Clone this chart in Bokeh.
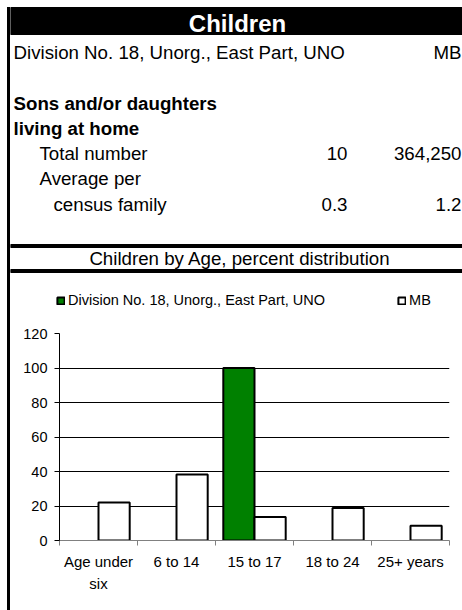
from bokeh.plotting import figure
from bokeh.models import (Range1d, FactorRange, ColumnDataSource, LinearAxis,
                          FixedTicker, Label, Legend, LegendItem, CDSView,
                          BooleanFilter, Div, Grid, Spacer)
from bokeh.layouts import row, column
from bokeh.transform import dodge
from bokeh.embed import file_html
from bokeh.resources import INLINE

FONT = "Liberation Sans"

# ---- data ----
title_text = "Children"
region_name = "Division No. 18, Unorg., East Part, UNO"
province_name = "MB"
section_lines = ["Sons and/or daughters", "living at home"]
row_labels = ["Total number", "Average per", "census family"]
total_number = [10, 364250]
avg_per_family = [0.3, 1.2]
chart_title = "Children by Age, percent distribution"

age_groups = ["Age under six", "6 to 14", "15 to 17", "18 to 24", "25+ years"]
age_labels = ["Age under\nsix", "6 to 14", "15 to 17", "18 to 24", "25+ years"]
division_pct = [0, 0, 100, 0, 0]
mb_pct = [22.0, 38.3, 13.6, 18.8, 8.6]
y_ticks = [0, 20, 40, 60, 80, 100, 120]

DIV_STYLE = dict(fill_color="#008000", line_color="black", line_width=2)
MB_STYLE = dict(fill_color="white", line_color="black", line_width=2)

# ---- top table panel (page coordinates) ----
TOP_H = 320
top = figure(width=452, height=TOP_H, x_range=Range1d(10, 462), y_range=Range1d(TOP_H, 0),
             x_axis_location=None, y_axis_location=None, toolbar_location=None,
             output_backend="svg", min_border=0, outline_line_color=None)
top.grid.visible = False
top.quad(left=[10], right=[462], top=[7], bottom=[34], color="black")
top.quad(left=[10, 10], right=[462, 462], top=[244, 269], bottom=[247, 272], color="black")


def lab(x, y, text, size="18.7px", align="left", bold=False, color="black"):
    top.add_layout(Label(x=x, y=y, text=text, text_font=FONT, text_font_size=size,
                         text_align=align, text_baseline="middle",
                         text_font_style="bold" if bold else "normal", text_color=color))


lab(237, 22.5, title_text, size="24px", align="center", bold=True, color="white")
lab(13, 52, region_name)
lab(461, 52, province_name, align="right")
lab(13, 103, section_lines[0], bold=True)
lab(13, 128, section_lines[1], bold=True)
lab(39, 153, row_labels[0])
lab(347, 153, f"{total_number[0]:,}", align="right")
lab(461, 153, f"{total_number[1]:,}", align="right")
lab(39, 178, row_labels[1])
lab(53, 204, row_labels[2])
lab(347, 204, f"{avg_per_family[0]:.1f}", align="right")
lab(461, 204, f"{avg_per_family[1]:.1f}", align="right")
lab(239.5, 258, chart_title, align="center")

# legend (lives in the upper panel, above the chart frame); proxy glyphs are not drawn
p1 = top.vbar(x=[float("nan")], top=[float("nan")], width=1, **DIV_STYLE)
p2 = top.vbar(x=[float("nan")], top=[float("nan")], width=1, **MB_STYLE)
legend = Legend(items=[LegendItem(label=region_name, renderers=[p1]),
                       LegendItem(label=province_name, renderers=[p2])],
                orientation="horizontal", location=(46, TOP_H - 310), glyph_width=9,
                glyph_height=9, label_standoff=3, spacing=72, padding=0, margin=0,
                border_line_color=None, background_fill_alpha=0, label_text_font=FONT,
                label_text_font_size="14.5px", label_text_color="black", label_height=20)
top.add_layout(legend, "center")

# ---- bar chart ----
chart = figure(width=452, height=610 - TOP_H, x_range=FactorRange(*age_groups),
               y_range=Range1d(0, 120), x_axis_location=None, y_axis_location=None,
               toolbar_location=None, output_backend="svg", min_border_left=49,
               min_border_right=13, min_border_top=333 - TOP_H, min_border_bottom=70,
               outline_line_color=None)
chart.center = [r for r in chart.center if not isinstance(r, Grid)]
chart.add_layout(Grid(dimension=1, ticker=FixedTicker(ticks=y_ticks[1:]),
                      grid_line_color="black", grid_line_width=1))

# labels at category centres, tick marks at category boundaries (synthetic coords)
n = len(age_groups)
centers = [i + 0.5 for i in range(n)]
edges = list(range(n + 1))
xaxis = LinearAxis(ticker=FixedTicker(ticks=centers, minor_ticks=edges),
                   major_tick_out=0, major_tick_in=0, minor_tick_out=5, minor_tick_in=0,
                   axis_line_color="#808080", minor_tick_line_color="#808080",
                   major_tick_line_color=None, major_label_standoff=7,
                   major_label_text_font=FONT, major_label_text_font_size="15px",
                   major_label_text_color="black", major_label_text_line_height=1.35,
                   major_label_overrides=dict(zip(centers, age_labels)))
chart.add_layout(xaxis, "below")

yaxis = LinearAxis(ticker=FixedTicker(ticks=y_ticks), major_tick_out=5, major_tick_in=0,
                   minor_tick_line_color=None, major_label_standoff=7,
                   major_label_text_font=FONT, major_label_text_font_size="14.5px",
                   major_label_text_color="black", axis_line_color="black",
                   major_tick_line_color="black")
chart.add_layout(yaxis, "left")

src = ColumnDataSource(dict(age=age_groups, division=division_pct, mb=mb_pct))
view = CDSView(filter=BooleanFilter([v > 0 for v in division_pct]))
chart.vbar(x=dodge("age", -0.2, range=chart.x_range), top="division", width=0.4,
           source=src, view=view, **DIV_STYLE)
chart.vbar(x=dodge("age", 0.2, range=chart.x_range), top="mb", width=0.4,
           source=src, **MB_STYLE)

left_border = Div(width=3, height=603, margin=(7, 0, 0, 0), styles={"background-color": "black"})
layout = row(Spacer(width=7, height=10), left_border,
             column(column(top), column(chart)))

open("out.html", "w").write(file_html(layout, INLINE))
